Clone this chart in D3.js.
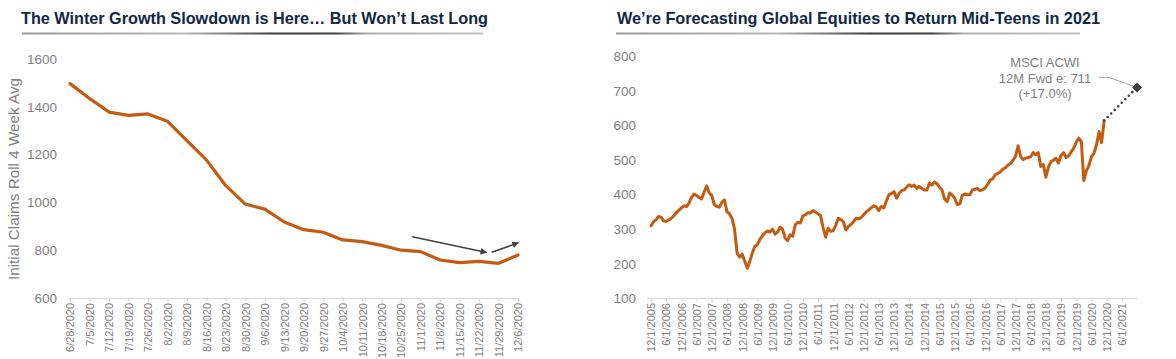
<!DOCTYPE html>
<html>
<head>
<meta charset="utf-8">
<script src="https://cdn.jsdelivr.net/npm/d3@7"></script>
<style>
  html, body { margin: 0; padding: 0; background: #fff; }
  svg { display: block; font-family: "Liberation Sans", Arial, sans-serif; }
</style>
</head>
<body>
<svg id="chart" width="1176" height="359"></svg>
<script>
// ---------- DATA ----------
const leftTitle = "The Winter Growth Slowdown is Here\u2026 But Won\u2019t Last Long";
const rightTitle = "We\u2019re Forecasting Global Equities to Return Mid-Teens in 2021";

const claimsWeeks = ["6/28/2020","7/5/2020","7/12/2020","7/19/2020","7/26/2020","8/2/2020","8/9/2020",
  "8/16/2020","8/23/2020","8/30/2020","9/6/2020","9/13/2020","9/20/2020","9/27/2020","10/4/2020",
  "10/11/2020","10/18/2020","10/25/2020","11/1/2020","11/8/2020","11/15/2020","11/22/2020","11/29/2020","12/6/2020"];
const claimsValues = [1497,1435,1378,1364,1370,1340,1258,1178,1070,993,972,918,886,875,843,836,820,800,794,759,748,753,745,780];
const claimsTicks = [600,800,1000,1200,1400,1600];
const claimsAxisTitle = "Initial Claims Roll 4 Week Avg";
// trend arrows: [startIndex, startValue, endIndex, endValue]
const claimsArrows = [[17.57,856,21.39,790],[21.65,791,23.02,831]];

const acwiStart = "2005-12-01";
const acwiValues = [
  310,
  322,328,337,335,324,323,327,332,339,348,355,362,
  368,366,375,392,402,398,392,388,408,426,405,398,
  371,366,364,378,385,351,345,332,300,231,219,228,
  208,187,205,230,250,255,270,281,290,295,292,300,
  286,292,306,300,275,267,284,280,313,320,318,339,
  342,348,347,354,350,345,340,305,277,303,294,296,
  312,332,328,322,298,308,314,322,332,330,334,342,
  351,356,362,368,365,354,366,362,382,400,404,409,
  390,404,412,414,422,429,424,428,419,424,418,414,
  414,434,428,437,432,422,414,388,380,405,399,390,
  371,374,398,402,400,400,414,416,418,412,414,420,
  430,443,446,458,462,466,474,478,486,490,500,511,
  542,511,502,506,508,510,522,516,522,482,488,451,
  480,496,500,506,492,514,522,508,513,524,535,552,
  564,554,441,470,484,510,520,545,583,551,615
];
const acwiTicks = [100,200,300,400,500,600,700,800];
const acwiLabelStart = "2005-12-01";
const acwiLabelCount = 32; // 12/1/2005 ... 6/1/2021, every 6 months
const acwiAxisEnd = "2021-12-01";
const forecastDate = "2021-12-01";
const forecastValue = 711;
const forecastLabel = ["MSCI ACWI","12M Fwd e: 711","(+17.0%)"];

// ---------- SETUP ----------
const svg = d3.select("#chart");
const ORANGE = "#c55a11";
const GRAY_TXT = "#7f7f7f";
const AXIS_GRAY = "#d9d9d9";
const TITLE_COL = "#0f2846";
const parse = d3.timeParse("%Y-%m-%d");

const defs = svg.append("defs");
const grad = defs.append("linearGradient").attr("id","ul").attr("x1","0%").attr("x2","100%");
[[0,"#9a9a9a"],[0.15,"#a8a8a8"],[0.35,"#b8b8b8"],[0.55,"#3a3a3a"],[0.68,"#404040"],[0.75,"#b0b0b0"],[1,"#c0c0c0"]]
  .forEach(([o,c]) => grad.append("stop").attr("offset",o).attr("stop-color",c));
defs.append("marker").attr("id","arrow").attr("viewBox","0 0 10 10")
  .attr("refX",9).attr("refY",5).attr("markerWidth",4.2).attr("markerHeight",4.2)
  .attr("markerUnits","strokeWidth").attr("orient","auto")
  .append("path").attr("d","M0,0 L10,5 L0,10 z").attr("fill","#404040");

function title(x, y, w, text, ulx1, ulx2) {
  svg.append("text").attr("x",x).attr("y",y).attr("fill",TITLE_COL)
    .attr("font-weight","bold").attr("font-size","17px")
    .attr("textLength",w).attr("lengthAdjust","spacingAndGlyphs").text(text);
  svg.append("rect").attr("x",ulx1).attr("y",32.5).attr("width",ulx2-ulx1).attr("height",2)
    .attr("fill","url(#ul)");
}
title(21, 24, 467, leftTitle, 22, 483);
title(617, 24, 483, rightTitle, 616, 1080);

// ---------- LEFT CHART ----------
const xL = d3.scalePoint().domain(claimsWeeks).range([70, 518]);
const xLi = d3.scaleLinear().domain([0, claimsWeeks.length-1]).range([70, 518]);
const yL = d3.scaleLinear().domain([600,1600]).range([298, 59]);

const gL = svg.append("g");
gL.selectAll(".yl").data(claimsTicks).join("text")
  .attr("x",57).attr("y",d=>yL(d)).attr("dy","0.35em").attr("text-anchor","end")
  .attr("font-size","13.5px").attr("fill",GRAY_TXT).text(d=>d);
gL.append("text").attr("transform",`translate(18.5,179) rotate(-90)`)
  .attr("text-anchor","middle").attr("font-size","14px").attr("fill",GRAY_TXT)
  .attr("textLength",202).attr("lengthAdjust","spacingAndGlyphs").text(claimsAxisTitle);
const axL = d3.axisBottom(xL).tickSize(4).tickSizeOuter(0);
const gxL = gL.append("g").attr("transform","translate(0,298)").call(axL);
gxL.select(".domain").attr("stroke",AXIS_GRAY).attr("d","M68,0.5H519");
gxL.selectAll(".tick line").attr("stroke",AXIS_GRAY);
gxL.selectAll(".tick text").attr("transform","rotate(-90)").attr("text-anchor","end")
  .attr("x",-5).attr("y",0).attr("dy","0.35em").attr("font-size","11px")
  .attr("font-family","Liberation Sans, Arial, sans-serif").attr("fill",GRAY_TXT);
gL.append("path").datum(claimsValues)
  .attr("d", d3.line().x((d,i)=>xL(claimsWeeks[i])).y(d=>yL(d)))
  .attr("fill","none").attr("stroke",ORANGE).attr("stroke-width",3.2)
  .attr("stroke-linejoin","round").attr("stroke-linecap","round");
gL.selectAll(".arr").data(claimsArrows).join("line")
  .attr("x1",d=>xLi(d[0])).attr("y1",d=>yL(d[1])).attr("x2",d=>xLi(d[2])).attr("y2",d=>yL(d[3]))
  .attr("stroke","#404040").attr("stroke-width",1.6).attr("marker-end","url(#arrow)");

// ---------- RIGHT CHART ----------
const xR = d3.scaleTime().domain([parse(acwiLabelStart), parse(acwiAxisEnd)]).range([651, 1137]);
const yR = d3.scaleLinear().domain([100,800]).range([298.3, 56.7]);
const start = parse(acwiStart);
const acwi = acwiValues.map((v,i)=>({date: d3.timeMonth.offset(start,i), value: v}));

const gR = svg.append("g");
gR.selectAll(".yr").data(acwiTicks).join("text")
  .attr("x",636).attr("y",d=>yR(d)).attr("dy","0.35em").attr("text-anchor","end")
  .attr("font-size","13.5px").attr("fill",GRAY_TXT).text(d=>d);

const labelDates = d3.range(acwiLabelCount).map(i => d3.timeMonth.offset(parse(acwiLabelStart), 6*i));
const fmt = d => `${d.getMonth()+1}/${d.getDate()}/${d.getFullYear()}`;
const axR = d3.axisBottom(xR).tickValues(labelDates).tickFormat(fmt).tickSize(4).tickSizeOuter(0);
const gxR = gR.append("g").attr("transform","translate(0,298)").call(axR);
gxR.select(".domain").attr("stroke",AXIS_GRAY).attr("d","M647,0.5H1137");
gxR.selectAll(".tick line").attr("stroke",AXIS_GRAY);
gxR.selectAll(".tick text").attr("transform","rotate(-90)").attr("text-anchor","end")
  .attr("x",-5).attr("y",0).attr("dy","0.35em").attr("font-size","11px")
  .attr("font-family","Liberation Sans, Arial, sans-serif").attr("fill",GRAY_TXT);

gR.append("path").datum(acwi)
  .attr("d", d3.line().x(d=>xR(d.date)).y(d=>yR(d.value)))
  .attr("fill","none").attr("stroke",ORANGE).attr("stroke-width",3)
  .attr("stroke-linejoin","round").attr("stroke-linecap","round");

const last = acwi[acwi.length-1];
const fx = xR(parse(forecastDate)), fy = yR(forecastValue);
gR.append("line").attr("x1",xR(last.date)).attr("y1",yR(last.value)).attr("x2",fx).attr("y2",fy)
  .attr("stroke","#404040").attr("stroke-width",2.6).attr("stroke-dasharray","0 5")
  .attr("stroke-linecap","round");
gR.append("polyline").attr("points",`${fx-38},${fy-10} ${fx-28},${fy-10} ${fx-4},${fy-1.5}`)
  .attr("fill","none").attr("stroke","#a6a6a6").attr("stroke-width",1);
gR.append("path").attr("d",d3.symbol(d3.symbolSquare, 50)())
  .attr("transform",`translate(${fx},${fy}) rotate(45)`).attr("fill","#404040");
gR.selectAll(".fl").data(forecastLabel).join("text")
  .attr("x",1045).attr("y",(d,i)=>62.7+i*15.5).attr("dy","0.35em").attr("text-anchor","middle")
  .attr("font-size","13px").attr("fill",GRAY_TXT).text(d=>d);
</script>
</body>
</html>
